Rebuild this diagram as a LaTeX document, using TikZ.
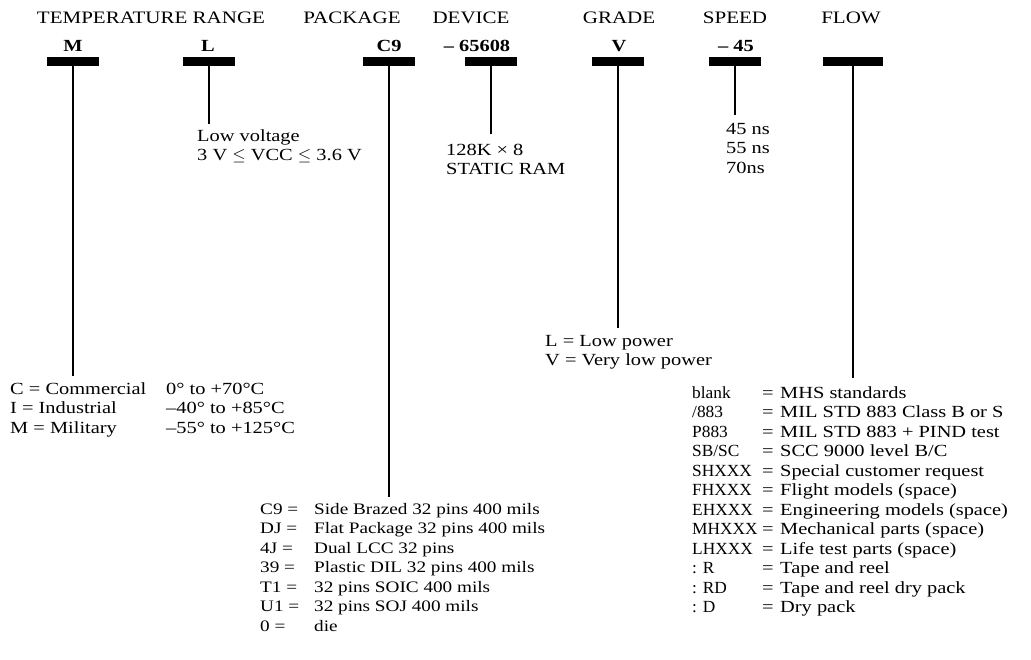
\documentclass[tikz,border=0pt]{standalone}
\usepackage{fontspec}
\usepackage{array}
\setmainfont{Liberation Serif}[FakeStretch=1.2]
\newfontfamily\codefont{Liberation Serif}[FakeStretch=1.02]
\usetikzlibrary{positioning}

\begin{document}
\begin{tikzpicture}[x=1pt,y=-1pt,
	bar/.style={fill=black,inner sep=0pt,minimum width=52pt,minimum height=8.5pt},
	stem/.style={line width=2.4pt},
	hdr/.style={anchor=base,inner sep=0pt,font=\fontsize{17.5}{20}\selectfont},
	code/.style={anchor=base,inner sep=0pt,font=\fontsize{17}{20}\selectfont\bfseries},
	txt/.style={anchor=base west,inner sep=0pt,font=\fontsize{17}{19.5}\selectfont}]
			%%%%% START %%%%%
			\useasboundingbox (0,0) rectangle (1031,659);
			
			\node[hdr] (htemp) at (151,23) {TEMPERATURE RANGE};
			\node[hdr] (hpack) at (352,23) {PACKAGE};
			\node[hdr] (hdev) at (471,23) {DEVICE};
			\node[hdr] (hgrade) at (619,23) {GRADE};
			\node[hdr] (hspeed) at (735,23) {SPEED};
			\node[hdr] (hflow) at (851,23) {FLOW};
			
			\node[code] (cm) at (73,51) {M};
			\node[code] (cl) at (208,51) {L};
			\node[code] (cpack) at (389,51) {C9};
			\node[code] (cdev) at (477,51) {-- 65608};
			\node[code] (cgrade) at (619,51) {V};
			\node[code] (cspeed) at (736,51) {-- 45};
			
			\node[bar] (bm) at (73,61.5) {};
			\node[bar] (bl) at (209,61.5) {};
			\node[bar] (bpack) at (389,61.5) {};
			\node[bar] (bdev) at (491,61.5) {};
			\node[bar] (bgrade) at (618,61.5) {};
			\node[bar] (bspeed) at (735,61.5) {};
			\node[bar, minimum width=60pt] (bflow) at (853,61.5) {};
			
			\coordinate (em) at (73,376);
			\coordinate (el) at (209,124);
			\coordinate (epack) at (389,497);
			\coordinate (edev) at (491,134);
			\coordinate (egrade) at (618,328);
			\coordinate (espeed) at (735,115);
			\coordinate (eflow) at (853,378);
			
			\draw[stem] (bm.south) -- (em);
			\draw[stem] (bl.south) -- (el);
			\draw[stem] (bpack.south) -- (epack);
			\draw[stem] (bdev.south) -- (edev);
			\draw[stem] (bgrade.south) -- (egrade);
			\draw[stem] (bspeed.south) -- (espeed);
			\draw[stem] (bflow.south) -- (eflow);
			
			\node[txt] (tl) at (197,141) {\begin{tabular}[t]{@{}l@{}}Low voltage\\ 3 V \(\leq\) VCC \(\leq\) 3.6 V\end{tabular}};
			\node[txt] (tdev) at (446,155) {\begin{tabular}[t]{@{}l@{}}128K \texttimes{} 8\\ STATIC RAM\end{tabular}};
			\node[txt] (tspeed) at (726,134) {\begin{tabular}[t]{@{}l@{}}45 ns\\ 55 ns\\ 70ns\end{tabular}};
			\node[txt] (tgrade) at (545,346) {\begin{tabular}[t]{@{}l@{}}L = Low power\\ V = Very low power\end{tabular}};
			
			\node[txt] (ttemp) at (10,394) {\begin{tabular}[t]{@{}p{156pt}@{}l@{}}
				C = Commercial & 0° to +70°C\\
				I = Industrial & --40° to +85°C\\
				M = Military & --55° to +125°C
			\end{tabular}};
			
			\node[txt, font=\fontsize{16}{19.5}\selectfont] (tpack) at (260,514) {\begin{tabular}[t]{@{}p{54pt}@{}l@{}}
				C9 = & Side Brazed 32 pins 400 mils\\
				DJ = & Flat Package 32 pins 400 mils\\
				4J = & Dual LCC 32 pins\\
				39 = & Plastic DIL 32 pins 400 mils\\
				T1 = & 32 pins SOIC 400 mils\\
				U1 = & 32 pins SOJ 400 mils\\
				0 = & die
			\end{tabular}};
			
			\node[txt] (tflow) at (692,398) {\begin{tabular}[t]{@{}>{\codefont}p{70pt}@{}p{18pt}@{}l@{}}
				blank & = & MHS standards\\
				/883 & = & MIL STD 883 Class B or S\\
				P883 & = & MIL STD 883 + PIND test\\
				SB/SC & = & SCC 9000 level B/C\\
				SHXXX & = & Special customer request\\
				FHXXX & = & Flight models (space)\\
				EHXXX & = & Engineering models (space)\\
				MHXXX & = & Mechanical parts (space)\\
				LHXXX & = & Life test parts (space)\\
				: R & = & Tape and reel\\
				: RD & = & Tape and reel dry pack\\
				: D & = & Dry pack
			\end{tabular}};
			
			%%%%% END %%%%%
		\end{tikzpicture}
\end{document}
